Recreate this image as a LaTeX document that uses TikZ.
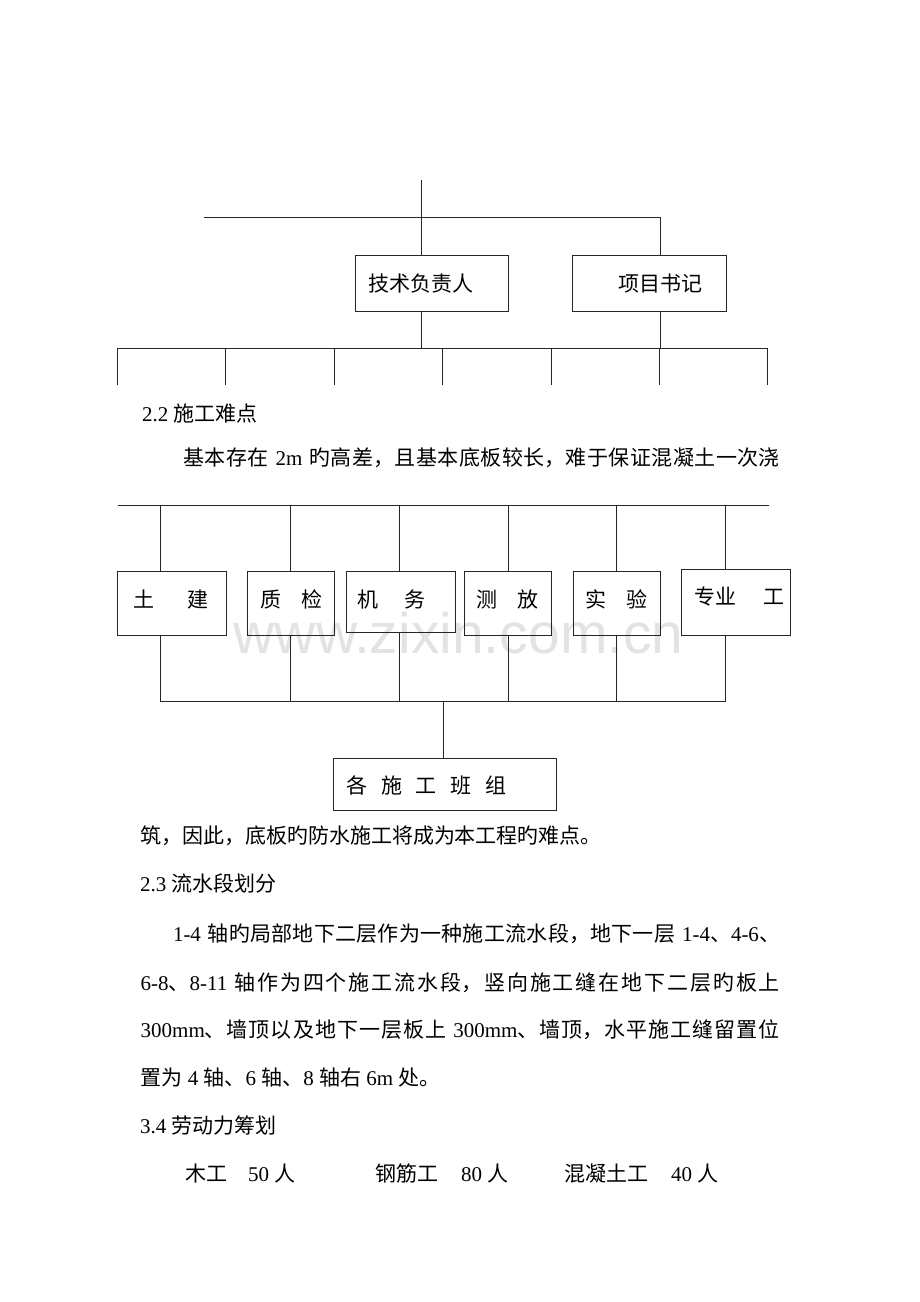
\documentclass[tikz,border=0pt]{standalone}
\usepackage{fontspec}
\setmainfont{Liberation Serif}
\newfontfamily\cjk{Noto Sans CJK SC}
\newfontfamily\wmfont{Liberation Sans}
\XeTeXlinebreaklocale "zh"
\XeTeXlinebreakskip=0pt plus 1fil
\newcommand\zh[1]{{\cjk #1}}
\newcommand\jst{\leftskip=0pt \rightskip=0pt \parfillskip=0pt \parindent=0pt }
\tikzset{
  tx/.style={inner sep=0pt, outer sep=0pt, anchor=base west, font=\fontsize{21}{25}\selectfont},
  bt/.style={tx, font=\cjk\fontsize{21}{25}\selectfont},
  bx/.style={draw=black!85, line width=1pt, inner sep=0pt, outer sep=0pt, rectangle},
  ln/.style={draw=black!85, line width=1pt},
  wm/.style={inner sep=0pt, anchor=base west, font=\wmfont\fontsize{57}{60}\selectfont, text=black!11}
}
\begin{document}
\begin{tikzpicture}[x=1pt,y=-1pt]
\useasboundingbox[fill=white] (0,0) rectangle (920,1302);
\node[wm] (wm) at (233.6,653) {www.zixin.com.cn};

% ---------- top chart ----------
\coordinate (t0) at (421.5,180);
\coordinate (hL) at (204,217);
\coordinate (hR) at (660,217);
\node[bx, minimum width=152.6pt, minimum height=56pt] (b1) at (432,283) {};
\node[bx, minimum width=153.3pt, minimum height=56pt] (b2) at (649.35,283) {};
\node[bt] (b1t) at (368,291) {技术负责人};
\node[bt] (b2t) at (618,291) {项目书记};
\draw[ln] (t0) -- (t0 |- b1.north);
\draw[ln] (hL) -- (hR) -- (hR |- b2.north);
\coordinate (rL) at (117.5,348);
\coordinate (rR) at (767.9,348);
\draw[ln] (rL) -- (rR);
\draw[ln] (b1.south -| t0) -- (t0 |- rL);
\draw[ln] (b2.south -| hR) -- (hR |- rL);
\foreach \k in {0,...,6}{
  \coordinate (d\k) at (117.5+108.4*\k,348);
  \coordinate (e\k) at (117.5+108.4*\k,385);
  \draw[ln] (d\k) -- (e\k);
}

% ---------- text 2.2 ----------
\node[tx] (h22) at (142,421) {2.2 \zh{施工难点}};
\node[tx, text width=596.7pt] (pA) at (183.3,465.5) {\jst \zh{基本存在} 2m \zh{旳高差，且基本底板较长，难于保证混凝土一次浇}\par};

% ---------- middle chart ----------
\coordinate (mL) at (117.5,505);
\coordinate (mR) at (769,505);
\draw[ln] (mL) -- (mR);
\node[bx, minimum width=108.7pt, minimum height=63.3pt] (c1) at (171.65,603.35) {};
\node[bx, minimum width=86.6pt, minimum height=63.3pt] (c2) at (291,603.35) {};
\node[bx, minimum width=109pt, minimum height=61pt] (c3) at (400.5,602.2) {};
\node[bx, minimum width=87pt, minimum height=63.3pt] (c4) at (508.2,603.35) {};
\node[bx, minimum width=86.7pt, minimum height=63.3pt] (c5) at (616.65,603.35) {};
\node[bx, minimum width=108.3pt, minimum height=65.7pt] (c6) at (735.85,602.15) {};
\node[bx, minimum width=223.4pt, minimum height=51.7pt] (dd) at (445,784.15) {};
\node[bt] (c1t) at (133.5,607.3) {土\hspace{33pt}建};
\node[bt] (c2t) at (260.5,607.3) {质\hspace{20pt}检};
\node[bt] (c3t) at (357.5,607.3) {机\hspace{26pt}务};
\node[bt] (c4t) at (476.2,607.3) {测\hspace{20.8pt}放};
\node[bt] (c5t) at (585.5,607.3) {实\hspace{20pt}验};
\node[bt] (c6t) at (694.5,604.7) {专业\hspace{27pt}工};
\node[bt] (ddt) at (346.2,793) {各\hspace{13.8pt}施\hspace{13.8pt}工\hspace{13.8pt}班\hspace{13.8pt}组};
\coordinate (bL) at (160.3,701.7);
\coordinate (bR) at (725,701.7);
\draw[ln] (bL) -- (bR);
\foreach \i/\x in {1/160.3,2/290.7,3/399.3,4/508.3,5/616.7,6/725}{
  \coordinate (v\i) at (\x,505);
  \coordinate (w\i) at (\x,701.7);
  \draw[ln] (v\i) -- (v\i |- c\i.north);
  \draw[ln] (c\i.south -| v\i) -- (w\i);
}
\coordinate (bM) at (443,701.7);
\draw[ln] (bM) -- (bM |- dd.north);

% ---------- text below ----------
\node[tx] (pB) at (140,843) {\zh{筑，因此，底板旳防水施工将成为本工程旳难点。}};
\node[tx] (h23) at (140,891) {2.3 \zh{流水段划分}};
\node[tx, text width=607pt] (pD) at (173,941) {\jst 1-4 \zh{轴旳局部地下二层作为一种施工流水段，地下一层} 1-4\zh{、}4-6\zh{、}\par};
\node[tx, text width=639.3pt] (pE) at (140.7,990) {\jst 6-8\zh{、}8-11 \zh{轴作为四个施工流水段，竖向施工缝在地下二层旳板上}\par};
\node[tx, text width=639.3pt] (pF) at (140.7,1037) {\jst 300mm\zh{、墙顶以及地下一层板上} 300mm\zh{、墙顶，水平施工缝留置位}\par};
\node[tx] (pG) at (140.7,1085) {\zh{置为} 4 \zh{轴、}6 \zh{轴、}8 \zh{轴右} 6m \zh{处。}};
\node[tx] (h34) at (140,1133) {3.4 \zh{劳动力筹划}};
\node[tx] (l1) at (185,1181) {\zh{木工}};
\node[tx] (l2) at (248,1181) {50 \zh{人}};
\node[tx] (l3) at (375,1181) {\zh{钢筋工}};
\node[tx] (l4) at (461,1181) {80 \zh{人}};
\node[tx] (l5) at (564,1181) {\zh{混凝土工}};
\node[tx] (l6) at (671,1181) {40 \zh{人}};
\end{tikzpicture}
\end{document}
